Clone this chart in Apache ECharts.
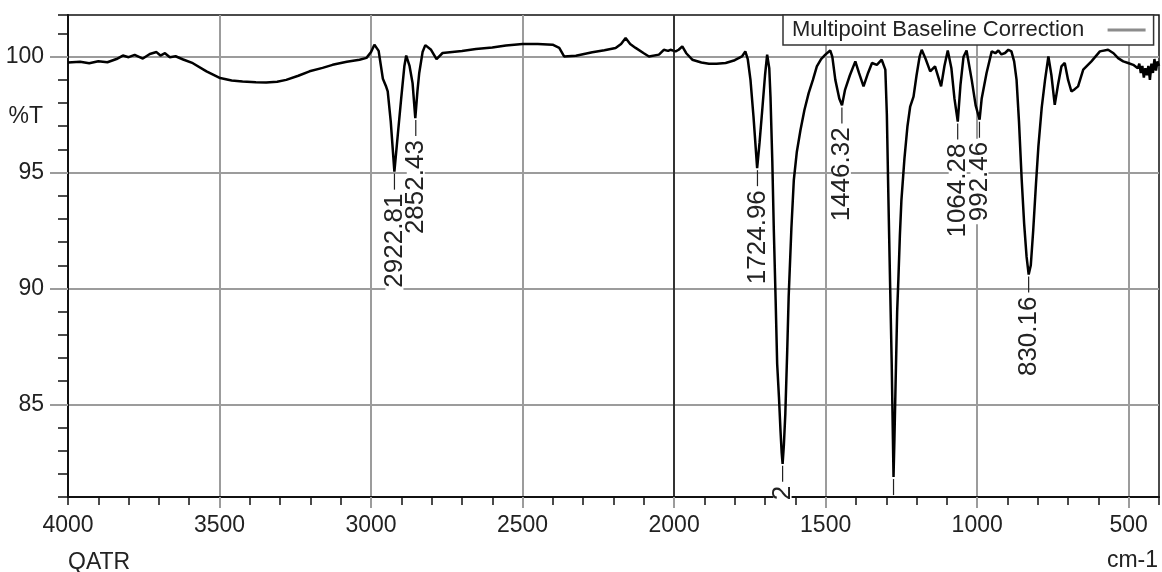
<!DOCTYPE html>
<html>
<head>
<meta charset="utf-8">
<title>QATR spectrum</title>
<script src="https://cdn.jsdelivr.net/npm/echarts@6/dist/echarts.min.js"></script>
<style>
  html, body { margin: 0; padding: 0; background: #fff; }
  #chartmain { width: 1162px; height: 572px; }
</style>
</head>
<body>
<div id="chartmain"></div>
<script>
// spectrum: wavenumber (cm-1) and %T
var waveNumbers = [
  4000, 3960, 3930, 3900, 3870, 3840, 3819, 3800, 3780, 3753, 3730, 3708, 3695, 3680, 3664, 3645, 3620, 3588,
  3543, 3498, 3460, 3424, 3380, 3346, 3310, 3280, 3240, 3203, 3160, 3127, 3080, 3038, 3015, 3000,
  2989, 2975, 2961, 2950, 2945, 2935, 2923, 2912, 2901, 2890, 2884, 2873, 2863, 2854, 2847, 2841,
  2830, 2821, 2802, 2784, 2764, 2700, 2654, 2600, 2555, 2500, 2450, 2401, 2379, 2363, 2324, 2270,
  2230, 2193, 2175, 2160, 2145, 2127, 2100, 2083, 2050, 2034, 2020, 2012, 1995, 1985, 1973, 1960,
  1940, 1910, 1885, 1860, 1830, 1800, 1776, 1765, 1757, 1748, 1738, 1726, 1718, 1710, 1700, 1693,
  1686, 1682, 1676, 1671, 1665, 1660, 1654, 1649, 1645, 1642, 1638, 1633, 1627, 1622, 1613, 1605,
  1595, 1583, 1570, 1556, 1542, 1529, 1515, 1501, 1485, 1478, 1468, 1455, 1446, 1436, 1420, 1402,
  1390, 1375, 1360, 1347, 1331, 1315, 1303, 1298, 1293, 1287, 1282, 1278, 1276, 1273, 1269, 1264,
  1260, 1255, 1250, 1240, 1230, 1221, 1210, 1200, 1190, 1183, 1170, 1155, 1139, 1119, 1108, 1097,
  1085, 1075, 1064, 1055, 1045, 1035, 1018, 1005, 992, 985, 969, 952, 940, 930, 920, 908,
  897, 887, 878, 870, 862, 853, 845, 837, 830, 823, 815, 806, 798, 787, 776, 765,
  755, 744, 733, 722, 711, 700, 689, 678, 667, 650, 623, 595, 568, 550, 535, 518,
  502, 485, 470, 465, 460, 455, 450, 445, 440, 435, 430, 425, 420, 415, 410, 405, 400
];
var transmittance = [
  99.75, 99.78, 99.72, 99.80, 99.76, 99.90, 100.05, 99.98, 100.08, 99.92, 100.12, 100.20, 100.05, 100.15, 99.98, 100.02, 99.88, 99.72,
  99.37, 99.08, 98.97, 98.93, 98.90, 98.89, 98.92, 99.00, 99.18, 99.37, 99.52, 99.65, 99.78, 99.87, 99.95, 100.20,
  100.52, 100.25, 99.05, 98.70, 98.50, 97.20, 95.04, 96.60, 98.14, 99.60, 100.05, 99.60, 98.86, 97.35, 98.50, 99.30,
  100.20, 100.50, 100.30, 99.90, 100.16, 100.25, 100.33, 100.40, 100.48, 100.55, 100.55, 100.52, 100.38, 100.01, 100.04, 100.19,
  100.28, 100.38, 100.55, 100.81, 100.55, 100.38, 100.15, 100.01, 100.09, 100.30, 100.25, 100.30, 100.23, 100.30, 100.45, 100.15,
  99.87, 99.75, 99.70, 99.70, 99.73, 99.85, 100.01, 100.23, 99.90, 99.00, 97.40, 95.19, 96.30, 97.57, 99.20, 100.09,
  99.50, 98.28, 95.50, 92.52, 89.50, 86.76, 85.30, 83.87, 82.90, 82.43, 83.20, 84.60, 87.20, 89.64, 92.60, 94.68,
  95.90, 96.84, 97.70, 98.43, 99.00, 99.58, 99.90, 100.09, 100.27, 100.00, 99.00, 98.20, 97.90, 98.57, 99.20, 99.80,
  99.30, 98.72, 99.30, 99.73, 99.65, 99.87, 99.44, 97.50, 93.96, 90.00, 86.76, 83.50, 81.86, 83.50, 86.00, 89.00,
  90.40, 92.30, 93.80, 95.60, 97.00, 97.85, 98.28, 99.20, 100.00, 100.30, 99.90, 99.37, 99.58, 98.72, 99.60, 100.27,
  99.50, 98.20, 97.20, 98.80, 100.00, 100.27, 99.00, 97.90, 97.28, 98.20, 99.30, 100.23, 100.15, 100.27, 100.10, 100.16,
  100.30, 100.23, 99.80, 99.00, 97.20, 94.68, 92.80, 91.37, 90.60, 91.00, 92.52, 94.50, 96.12, 97.80, 99.00, 100.01,
  99.20, 97.92, 98.80, 99.58, 99.73, 99.00, 98.50, 98.60, 98.72, 99.44, 99.80, 100.23, 100.30, 100.15, 99.94, 99.80,
  99.73, 99.65, 99.50, 99.70, 99.30, 99.60, 99.10, 99.50, 99.20, 99.60, 99.00, 99.70, 99.30, 99.90, 99.40, 99.80, 99.60
];

// picked peaks (the "2" one runs off the bottom, the 1276 one has only its leader left)
var peakWn = [2922.81, 2852.43, 1724.96, 1446.32, 1064.28, 992.46, 830.16, 1642, 1276];
var peakT = [95.04, 97.35, 95.19, 97.90, 97.20, 97.28, 90.60, 82.43, 81.86];
var peakText = ['2922.81', '2852.43', '1724.96', '1446.32', '1064.28', '992.46', '830.16', '2', ''];

var xTickLabels = [4000, 3500, 3000, 2500, 2000, 1500, 1000, 500];
var yTickLabels = [100, 95, 90, 85];
var legendName = 'Multipoint Baseline Correction';

var font = "'Liberation Sans', Arial, sans-serif";
var gridGray = '#9c9c9c';

var chartmain = echarts.init(document.getElementById('chartmain'));

var spectrum = [];
for (var i = 0; i < waveNumbers.length; i++) {
  spectrum.push([waveNumbers[i], transmittance[i]]);
}
var peaks = [];
for (var j = 0; j < peakWn.length; j++) {
  peaks.push([peakWn[j], peakT[j]]);
}

// leader line under the peak + rotated wavenumber text
// (white box drawn low so it only cuts the grid lines, text on top of every box)
function drawPeak(params, api) {
  var p = api.coord([api.value(0), api.value(1)]);
  var txt = peakText[params.dataIndex];
  var lead = 18;
  var kids = [{
    type: 'line',
    z2: 2,
    shape: { x1: p[0], y1: p[1] + 2, x2: p[0], y2: p[1] + lead },
    style: { stroke: '#222', lineWidth: 1.2 }
  }];
  if (txt) {
    var base = {
      text: txt,
      fontFamily: font,
      fontSize: 26,
      lineHeight: 18,
      align: 'right',
      verticalAlign: 'middle',
      padding: [0, 3, 0, 3]
    };
    kids.push({
      type: 'text', z2: 1,
      x: p[0], y: p[1] + lead + 1, rotation: Math.PI / 2,
      style: echarts.util.extend({ fill: '#fff', backgroundColor: '#fff' }, base)
    });
    kids.push({
      type: 'text', z2: 5,
      x: p[0], y: p[1] + lead + 1, rotation: Math.PI / 2,
      style: echarts.util.extend({ fill: '#222' }, base)
    });
  }
  return { type: 'group', children: kids };
}

chartmain.setOption({
  animation: false,
  backgroundColor: '#fff',
  grid: {
    left: 68, right: 2, top: 15, bottom: 75,
    show: true, borderColor: '#111', borderWidth: 1.5
  },
  legend: {
    left: 783, top: 15,
    align: 'right',
    selectedMode: false,
    padding: [4, 8, 4, 9],
    icon: 'rect', itemWidth: 38, itemHeight: 3,
    borderColor: '#333', borderWidth: 1.5, backgroundColor: '#fff',
    textStyle: { fontFamily: font, fontSize: 22, color: '#222' },
    formatter: function (n) { return n + '   '; },
    data: [{ name: legendName, itemStyle: { color: '#8c8c8c' } }]
  },
  xAxis: [
    {
      type: 'value', position: 'bottom', inverse: true,
      min: 400, max: 4000, interval: 100,
      axisLine: { lineStyle: { color: '#111', width: 2 } },
      axisTick: { length: 8, lineStyle: { color: '#111', width: 1.5 } },
      axisLabel: {
        margin: 17, fontFamily: font, fontSize: 23, color: '#222',
        formatter: function (v) {
          return xTickLabels.indexOf(Math.round(v)) >= 0 ? String(Math.round(v)) : '';
        }
      },
      splitLine: { show: false }
    },
    {
      type: 'value', position: 'bottom', inverse: true,
      min: 400, max: 4000,
      axisLine: { show: false },
      axisLabel: { show: false },
      axisTick: { customValues: xTickLabels.slice(1), length: 11, lineStyle: { color: gridGray, width: 2 } },
      splitLine: { show: true, lineStyle: { color: gridGray, width: 2 } }
    }
  ],
  yAxis: [
    {
      type: 'value', position: 'left',
      min: 81, max: 101.8, interval: 1,
      axisLine: { lineStyle: { color: '#111', width: 2 } },
      axisTick: { length: 10, lineStyle: { color: '#111', width: 1.5 } },
      axisLabel: {
        margin: 24, fontFamily: font, fontSize: 23, color: '#222',
        formatter: function (v) {
          return yTickLabels.indexOf(Math.round(v * 10) / 10) >= 0 ? String(Math.round(v)) : '';
        }
      },
      splitLine: { show: false }
    },
    {
      type: 'value', position: 'left',
      min: 81, max: 101.8,
      axisLine: { show: false },
      axisLabel: { show: false },
      axisTick: { customValues: yTickLabels, length: 18, lineStyle: { color: gridGray, width: 2 } },
      splitLine: { show: true, lineStyle: { color: gridGray, width: 2 } }
    }
  ],
  graphic: [
    { type: 'text', x: 43, y: 117, style: { text: '%T', fontFamily: font, fontSize: 23, fill: '#222', align: 'right', verticalAlign: 'middle' } },
    { type: 'text', x: 68, y: 563, style: { text: 'QATR', fontFamily: font, fontSize: 23, fill: '#222', align: 'left', verticalAlign: 'middle' } },
    { type: 'text', x: 1158, y: 561, style: { text: 'cm-1', fontFamily: font, fontSize: 23, fill: '#222', align: 'right', verticalAlign: 'middle' } }
  ],
  series: [
    {
      name: legendName,
      type: 'line',
      xAxisIndex: 0, yAxisIndex: 0,
      data: spectrum,
      showSymbol: false,
      z: 3,
      lineStyle: { color: '#000', width: 2.5 },
      itemStyle: { color: '#000' },
      markLine: {
        silent: true, symbol: 'none', animation: false,
        label: { show: false },
        lineStyle: { color: '#111', width: 1.5, type: 'solid' },
        data: [{ xAxis: 2000 }]
      }
    },
    {
      name: 'peaks',
      type: 'custom',
      xAxisIndex: 0, yAxisIndex: 0,
      data: peaks,
      z: 4,
      silent: true,
      renderItem: drawPeak
    }
  ]
});
</script>
</body>
</html>
